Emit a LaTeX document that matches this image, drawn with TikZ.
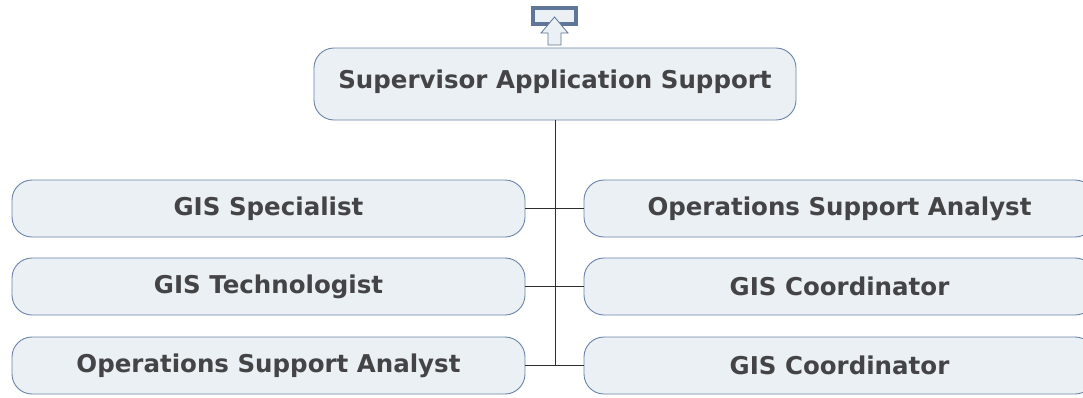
\documentclass[tikz,border=0pt]{standalone}
\usepackage{fontspec}
\setmainfont{DejaVu Sans}
\usetikzlibrary{positioning}
\definecolor{boxfill}{RGB}{234,240,243}
\definecolor{boxline}{RGB}{106,130,168}
\definecolor{iconline}{RGB}{96,118,152}
\definecolor{textgray}{RGB}{68,68,70}
\definecolor{linkgray}{RGB}{45,45,45}
\begin{document}
\begin{tikzpicture}[x=1pt,y=-1pt,line cap=round,
 rolebox/.style={draw=boxline,fill=boxfill,rounded corners=20pt,line width=.9pt,
  text=textgray,font=\fontsize{24.5}{28}\selectfont\bfseries,inner sep=0pt},
 headbox/.style={rolebox,minimum width=482pt,minimum height=72pt,text depth=10pt},
 leftbox/.style={rolebox,minimum width=513pt,minimum height=57pt},
 rightbox/.style={rolebox,minimum width=511pt,minimum height=57pt},
 link/.style={draw=linkgray,line width=.9pt}]
\useasboundingbox (0,0) rectangle (1083,397);
% marker above the head
\draw[iconline,line width=4pt,fill=boxfill] (533,8) rectangle (576,24);
\draw[iconline,line width=.8pt,fill=boxfill,line cap=butt,line join=miter]
 (554.5,17)--(568,33)--(561,33)--(561,45)--(548,45)--(548,33)--(541,33)--cycle;
% boxes
\node[headbox] (head) at (555,84) {Supervisor Application Support};
\node[leftbox] (l1) at (268.5,208.5) {GIS Specialist};
\node[leftbox] (l2) at (268.5,286.5) {GIS Technologist};
\node[leftbox] (l3) at (268.5,365.5) {Operations Support Analyst};
\node[rightbox] (r1) at (839.5,208.5) {Operations Support Analyst};
\node[rightbox] (r2) at (839.5,286.5) {GIS Coordinator};
\node[rightbox] (r3) at (839.5,365.5) {GIS Coordinator};
% connectors
\coordinate (trunk) at (head.south |- l3.east);
\draw[link] (head.south)--(trunk);
\foreach \i in {1,2,3}
 \draw[link] (l\i.east)--(r\i.west);
\end{tikzpicture}
\end{document}
